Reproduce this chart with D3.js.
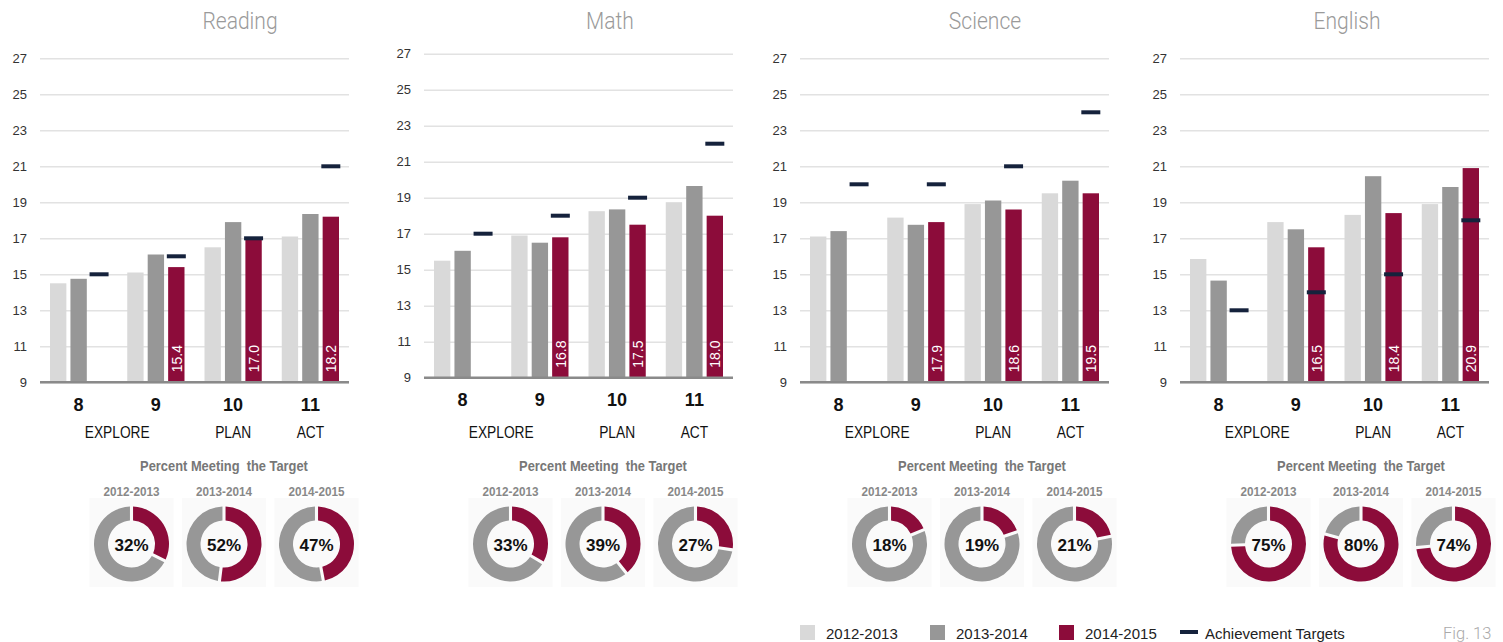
<!DOCTYPE html>
<html>
<head>
<meta charset="utf-8">
<script src="https://cdn.jsdelivr.net/npm/d3@7/dist/d3.min.js"></script>
<style>
  html, body { margin: 0; padding: 0; background: #fff; }
  svg { display: block; font-family: "Liberation Sans", Arial, sans-serif; }
</style>
</head>
<body>
<svg id="chart" width="1503" height="642"></svg>
<script>
// ---- data ----
const subjects = ["Reading", "Math", "Science", "English"];
const grades = ["8", "9", "10", "11"];
const tests = ["EXPLORE", "PLAN", "ACT"];
const years = ["2012-2013", "2013-2014", "2014-2015"];
const yTicks = [9, 11, 13, 15, 17, 19, 21, 23, 25, 27];

// average scores by grade (8, 9, 10, 11)
const reading1213 = [14.5, 15.1, 16.5, 17.1];
const reading1314 = [14.75, 16.1, 17.9, 18.35];
const reading1415 = [null, 15.4, 17.0, 18.2];
const readingTargets = [15, 16, 17, 21];
const readingPercent = [32, 52, 47];

const math1213 = [15.5, 16.9, 18.25, 18.75];
const math1314 = [16.05, 16.5, 18.35, 19.65];
const math1415 = [null, 16.8, 17.5, 18.0];
const mathTargets = [17, 18, 19, 22];
const mathPercent = [33, 39, 27];

const science1213 = [17.1, 18.15, 18.9, 19.5];
const science1314 = [17.4, 17.75, 19.1, 20.2];
const science1415 = [null, 17.9, 18.6, 19.5];
const scienceTargets = [20, 20, 21, 24];
const sciencePercent = [18, 19, 21];

const english1213 = [15.85, 17.9, 18.3, 18.9];
const english1314 = [14.65, 17.5, 20.45, 19.85];
const english1415 = [null, 16.5, 18.4, 20.9];
const englishTargets = [13, 14, 15, 18];
const englishPercent = [75, 80, 74];

const scoreSeries = [
  [reading1213, reading1314, reading1415],
  [math1213, math1314, math1415],
  [science1213, science1314, science1415],
  [english1213, english1314, english1415]
];
const targetSeries = [readingTargets, mathTargets, scienceTargets, englishTargets];
const percentSeries = [readingPercent, mathPercent, sciencePercent, englishPercent];

// ---- styling / layout ----
const colors = ["#d9d9d9", "#979797", "#8c0c3a"];
const targetColor = "#15223c";
const layout = [
  { x0: 40,   base: 382.3, titleX: 240,  donutX: 224 },
  { x0: 424,  base: 377.7, titleX: 610,  donutX: 603 },
  { x0: 800,  base: 382.3, titleX: 985,  donutX: 982 },
  { x0: 1180, base: 382.3, titleX: 1347, donutX: 1361 }
];
const plotW = 309, plotH = 324;

const svg = d3.select("#chart");
svg.append("rect").attr("width", 1503).attr("height", 642).attr("fill", "#fff");

function condensed(g, x, y, sx, txt) {
  return g.append("text")
    .attr("transform", `translate(${x},${y}) scale(${sx},1)`)
    .attr("text-anchor", "middle")
    .text(txt);
}

subjects.forEach((subject, si) => {
  const L = layout[si];
  const g = svg.append("g");

  const x0 = d3.scaleBand().domain(grades).range([L.x0, L.x0 + plotW]);
  const x1 = d3.scaleBand().domain(years).range([10, 67.25]).paddingInner(0.2);
  const y = d3.scaleLinear().domain([9, 27]).range([L.base, L.base - plotH]);

  // title
  condensed(g, L.titleX, 29, 0.86, subject)
    .attr("font-family", "Roboto, sans-serif")
    .attr("font-weight", 300)
    .attr("font-size", 24.5)
    .attr("fill", "#9a9a9a");

  // gridlines + tick labels
  const axis = d3.axisLeft(y).tickValues(yTicks).tickSize(-plotW).tickPadding(13).tickFormat(d3.format("d"));
  const ag = g.append("g").attr("transform", `translate(${L.x0},0)`).call(axis);
  ag.select(".domain").remove();
  ag.selectAll(".tick line").attr("stroke", "#e2e2e2").attr("stroke-width", 1.4);
  ag.selectAll(".tick text").attr("font-size", 13).attr("fill", "#333")
    .attr("font-family", "Liberation Sans, Arial, sans-serif");

  // bars
  const bars = [];
  grades.forEach((gr, gi) => {
    years.forEach((yr, yi) => {
      const v = scoreSeries[si][yi][gi];
      if (v != null) bars.push({ gr, yr, yi, v });
    });
  });
  g.selectAll("rect.bar").data(bars).join("rect")
    .attr("class", "bar")
    .attr("x", d => x0(d.gr) + x1(d.yr))
    .attr("width", x1.bandwidth())
    .attr("y", d => y(d.v))
    .attr("height", d => y(9) - y(d.v))
    .attr("fill", d => colors[d.yi]);

  // value labels on the latest year's bars
  g.selectAll("text.val").data(bars.filter(d => d.yi === 2)).join("text")
    .attr("class", "val")
    .attr("transform", d => `translate(${x0(d.gr) + x1(d.yr) + x1.bandwidth() / 2 + 0.5},${y(9) - 10}) rotate(-90)`)
    .attr("dominant-baseline", "central")
    .attr("font-size", 14)
    .attr("fill", "#fff")
    .text(d => d.v.toFixed(1));

  // baseline
  g.append("line")
    .attr("x1", L.x0).attr("x2", L.x0 + plotW)
    .attr("y1", y(9)).attr("y2", y(9))
    .attr("stroke", "#8a8a8a").attr("stroke-width", 2.6);

  // achievement targets
  const tw = 19;
  g.selectAll("rect.target").data(targetSeries[si]).join("rect")
    .attr("class", "target")
    .attr("x", (d, i) => x0(grades[i]) + x1(years[2]) + x1.bandwidth() / 2 - tw / 2)
    .attr("width", tw)
    .attr("y", d => y(d) - 2)
    .attr("height", 4)
    .attr("fill", targetColor);

  // grade labels
  g.selectAll("text.grade").data(grades).join("text")
    .attr("class", "grade")
    .attr("x", d => x0(d) + x0.bandwidth() / 2)
    .attr("y", L.base + 28.4)
    .attr("text-anchor", "middle")
    .attr("font-size", 18).attr("font-weight", "bold").attr("fill", "#111")
    .text(d => d);

  // test labels: EXPLORE spans grades 8-9, PLAN grade 10, ACT grade 11
  const c = gr => x0(gr) + x0.bandwidth() / 2;
  const testX = [(c("8") + c("9")) / 2, c("10"), c("11")];
  tests.forEach((t, ti) => {
    condensed(g, testX[ti], 438.3, 0.8, t)
      .attr("font-size", 17.2).attr("fill", "#111");
  });

  // donuts: percent meeting the target
  condensed(g, L.donutX, 471, 0.92, "Percent Meeting  the Target")
    .attr("font-size", 14).attr("font-weight", "bold").attr("fill", "#777")
    .style("white-space", "pre");

  const dx = d3.scalePoint().domain(years).range([L.donutX - 92.5, L.donutX + 92.5]);
  const pie = d3.pie().sort(null).padAngle(0.07);
  const arc = d3.arc().innerRadius(23.5).outerRadius(37.5);

  years.forEach((yr, yi) => {
    const pct = percentSeries[si][yi];
    const cx = dx(yr), cy = 544;
    condensed(g, cx, 496, 0.9, yr)
      .attr("font-size", 13).attr("font-weight", "bold").attr("fill", "#888");
    g.append("rect")
      .attr("x", cx - 42).attr("y", 498).attr("width", 84).attr("height", 89)
      .attr("fill", "#fafafa");
    const dg = g.append("g").attr("transform", `translate(${cx},${cy})`);
    dg.selectAll("path").data(pie([pct, 100 - pct])).join("path")
      .attr("d", arc)
      .attr("fill", (d, i) => i === 0 ? colors[2] : colors[1]);
    dg.append("text")
      .attr("y", 1)
      .attr("text-anchor", "middle")
      .attr("dominant-baseline", "central")
      .attr("font-size", 17).attr("font-weight", "bold").attr("fill", "#111")
      .text(pct + "%");
  });
});

// legend
const legend = svg.append("g");
const legendX = [800, 930, 1059];
years.forEach((yr, i) => {
  legend.append("rect").attr("x", legendX[i]).attr("y", 625).attr("width", 15).attr("height", 15).attr("fill", colors[i]);
  legend.append("text").attr("x", legendX[i] + 26).attr("y", 638.5)
    .attr("font-size", 15).attr("fill", "#222").text(yr);
});
legend.append("rect").attr("x", 1180).attr("y", 630).attr("width", 18).attr("height", 4).attr("fill", targetColor);
legend.append("text").attr("x", 1205).attr("y", 638.5).attr("font-size", 15).attr("fill", "#222").text("Achievement Targets");
svg.append("text").attr("x", 1443).attr("y", 638.5).attr("font-size", 16.5).attr("fill", "#aaa")
  .attr("font-family", "Roboto, sans-serif").attr("font-weight", 300).text("Fig. 13");
</script>
</body>
</html>
